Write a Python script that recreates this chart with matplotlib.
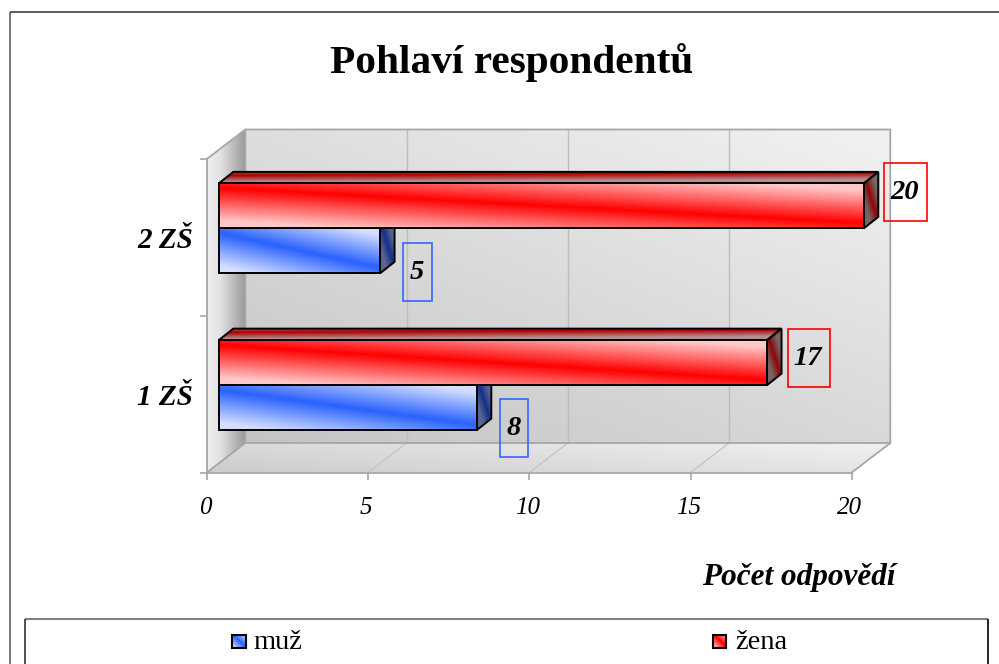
import numpy as np
import matplotlib
matplotlib.use("Agg")
import matplotlib.pyplot as plt
from matplotlib.lines import Line2D
from matplotlib.patches import Polygon, Rectangle
from matplotlib.transforms import IdentityTransform, Affine2D

# ---- data ----
categories = ["1 ZŠ", "2 ZŠ"]
muz = [8, 5]
zena = [17, 20]
x_ticks = [0, 5, 10, 15, 20]
series_names = ["muž", "žena"]
title_text = "Pohlaví respondentů"
x_title = "Počet odpovědí"

W, H = 999, 664
SERIF = "Liberation Serif"
plt.rcParams["font.family"] = [SERIF, "DejaVu Serif"]

fig = plt.figure(figsize=(W / 100, H / 100), dpi=100, facecolor="white")
IDT = IdentityTransform()

# front plane of the 3-D box in pixels
L, R, T, B = 206.8, 851.8, 159.0, 472.5
ax = fig.add_axes([L / W, 1 - B / H, (R - L) / W, (B - T) / H])
ax.set_xlim(0, 20)
ax.set_ylim(0, 2)
ax.patch.set_visible(False)
for s in ("top", "right"):
    ax.spines[s].set_visible(False)
FRAME = "#A6A6A6"
for s in ("left", "bottom"):
    ax.spines[s].set_color(FRAME)
    ax.spines[s].set_linewidth(1.3)
    ax.spines[s].set_zorder(3)
ax.set_xticks(x_ticks)
ax.set_xticklabels([str(v) for v in x_ticks], style="italic", fontsize=18)
ax.set_yticks([0, 1, 2])
ax.set_yticklabels([])
ax.set_yticks([0.5, 1.5], minor=True)
ax.set_yticklabels(categories, minor=True, style="italic", weight="bold", fontsize=21)
ax.tick_params(axis="x", which="major", length=5, width=1.2, color=FRAME, pad=12.5)
ax.tick_params(axis="y", which="major", length=5, width=1.2, color=FRAME)
ax.tick_params(axis="y", which="minor", length=0, pad=10)
for lab in ax.get_xticklabels():
    lab.set_transform(lab.get_transform() + Affine2D().translate(-2, 0))

DEPTH = np.array([38.5, 29.5])        # box depth in pixels
BAR_OFF = np.array([12.0, 9.0])       # bars sit this far back in the box
BAR_D = np.array([14.5, 11.5])        # depth of a bar in pixels


def P(x, y, off=(0, 0)):
    """Data coordinates to display pixels with a 3-D depth offset."""
    p = ax.transData.transform((x, y))
    return p + np.asarray(off, float)


def hexrgb(c):
    return np.array(matplotlib.colors.to_rgb(c))


def paint(pts, func, z):
    """Fill a polygon (display px) with an image computed by func(u, v)."""
    pts = np.asarray(pts, float)
    x0, y0 = pts.min(0)
    x1, y1 = pts.max(0)
    nx = max(int(x1 - x0) + 2, 2)
    ny = max(int(y1 - y0) + 2, 2)
    u, v = np.meshgrid(np.linspace(0, 1, nx), np.linspace(0, 1, ny))
    img = np.clip(func(u, v), 0, 1)
    im = ax.imshow(img, extent=(x0, x1, y0, y1), origin="upper", transform=IDT,
                   aspect="auto", zorder=z, interpolation="bilinear")
    im.set_clip_box(fig.bbox)
    clip = Polygon(pts, closed=True, transform=IDT)
    im.set_clip_path(clip)
    ax.set_xlim(0, 20)
    ax.set_ylim(0, 2)


def band(sat, light, v0=0.1, v1=0.9, span=0.75):
    sat, light = hexrgb(sat), hexrgb(light)

    def f(u, v):
        t = np.clip(np.abs(v - (v0 + (v1 - v0) * u)) / span, 0, 1)[..., None]
        return sat + (light - sat) * t
    return f


def gray(fn):
    def f(u, v):
        g = fn(u, v)[..., None]
        return np.repeat(g, 3, axis=2)
    return f


def outline(pts, z, color="black", lw=1.4):
    ax.add_patch(Polygon(pts, closed=True, transform=IDT, fill=False, ec=color,
                         lw=lw, zorder=z, clip_on=False, joinstyle="miter"))


# ---- walls ----
back = [P(0, 0, DEPTH), P(20, 0, DEPTH), P(20, 2, DEPTH), P(0, 2, DEPTH)]
paint(back, gray(lambda u, v: (196 + 46 * (0.55 * (1 - v) + 0.45 * u)) / 255), 1)
side = [P(0, 0), P(0, 0, DEPTH), P(0, 2, DEPTH), P(0, 2)]
paint(side, gray(lambda u, v: np.interp(u, [0, 0.35, 1], [238, 226, 152]) / 255), 1)
floor = [P(0, 0), P(20, 0), P(20, 0, DEPTH), P(0, 0, DEPTH)]
paint(floor, gray(lambda u, v: (204 + 38 * (0.65 * u + 0.35 * (1 - v))) / 255), 1)

for v in x_ticks[1:-1]:
    ax.plot(*zip(P(v, 0, DEPTH), P(v, 2, DEPTH)), transform=IDT, color="#BDBDBD",
            lw=1.0, zorder=2, clip_on=False)
for v in x_ticks[1:]:
    ax.plot(*zip(P(v, 0), P(v, 0, DEPTH)), transform=IDT, color="#C6C6C6" if v < 20 else FRAME,
            lw=1.0 if v < 20 else 1.3, zorder=2, clip_on=False)
ax.plot(*zip(P(0, 0), P(0, 0, DEPTH), P(20, 0, DEPTH), P(20, 2, DEPTH), P(0, 2, DEPTH),
             P(0, 0, DEPTH)), transform=IDT, color=FRAME, lw=1.3, zorder=2.5, clip_on=False)
ax.plot(*zip(P(0, 2), P(0, 2, DEPTH)), transform=IDT, color=FRAME, lw=1.3, zorder=2.5,
        clip_on=False)

# ---- bars ----
BAR_H = 45 / ((B - T) / 2)
y_pos = np.array([0.5, 1.5])
bar_tr = ax.transData + Affine2D().translate(*BAR_OFF)
RED = dict(front=("#FF0000", "#FFC8C8"), top=("#AC0000", "#B49090"), side=("#8C0808", "#786464"))
BLUE = dict(front=("#2A62FF", "#D4DFFF"), side=("#15308A", "#5A6590"))


def faces(value, y_low, y_high, colors, z):
    off = BAR_OFF
    fr = [P(0, y_low, off), P(value, y_low, off), P(value, y_high, off), P(0, y_high, off)]
    sd = [P(value, y_low, off), P(value, y_low, off + BAR_D),
          P(value, y_high, off + BAR_D), P(value, y_high, off)]
    tp = [P(0, y_high, off), P(value, y_high, off), P(value, y_high, off + BAR_D),
          P(0, y_high, off + BAR_D)]
    if "top" in colors:
        paint(tp, band(*colors["top"], v0=0.35, v1=0.1, span=0.6), z)
        outline(tp, z + 0.1)
    paint(sd, band(*colors["side"], v0=0.1, v1=0.9, span=0.45), z)
    outline(sd, z + 0.1)
    paint(fr, band(*colors["front"]), z + 0.2)


for i in range(len(categories)):
    base = 10 + i * 10
    faces(muz[i], y_pos[i] - BAR_H, y_pos[i], BLUE, base)
    faces(zena[i], y_pos[i], y_pos[i] + BAR_H, RED, base + 2)

bars_m = ax.barh(y_pos - BAR_H / 2, muz, height=BAR_H, transform=bar_tr, facecolor="none",
                 edgecolor="black", linewidth=1.4, clip_on=False)
bars_z = ax.barh(y_pos + BAR_H / 2, zena, height=BAR_H, transform=bar_tr, facecolor="none",
                 edgecolor="black", linewidth=1.4, clip_on=False)
for i, (bm, bz) in enumerate(zip(bars_m, bars_z)):
    bm.set_zorder(10 + i * 10 + 0.3)
    bz.set_zorder(12 + i * 10 + 0.3)
ax.set_xlim(0, 20)
ax.set_ylim(0, 2)


# ---- value labels (hand-moved boxes, as in the source chart) ----
def value_label(value, y, dy, color, wd, shift):
    end = P(value, y, BAR_OFF)
    cx, cy = end[0] + shift + wd / 2, end[1] + dy
    ax.add_patch(Rectangle((cx - wd / 2, cy - 29), wd, 58, transform=IDT, fill=False, ec=color,
                           lw=1.2, zorder=40, clip_on=False))
    ax.text(cx - 0.8, cy - 0.5, str(value), transform=IDT, ha="center", va="center",
            style="italic", weight="bold", fontsize=20.5, zorder=41, clip_on=False)


for i, (dm, dz) in enumerate(zip((-20, -21), (5, 13.7))):
    value_label(muz[i], y_pos[i] - BAR_H / 2, dm, "#3366FF", 28.5, 23)
    value_label(zena[i], y_pos[i] + BAR_H / 2, dz, "#FF0000", 42.5, 20.5)

# ---- titles ----
fig.text(511.5 / W, 1 - 73 / H, title_text, ha="center", va="baseline", weight="bold", fontsize=29.7)
fig.text(799 / W, 1 - 585 / H, x_title, ha="center", va="baseline", style="italic",
         weight="bold", fontsize=22.5)


# ---- chart and legend frames ----
def line(xs, ys, color, lw):
    fig.add_artist(Line2D(xs, [H - y for y in ys], transform=IDT, color=color, lw=lw,
                          solid_capstyle="butt"))


line([10, 999], [12, 12], "#303030", 1.1)
line([10, 10], [12, 664], "#505050", 1.1)
line([25, 988], [619, 619], "#808080", 1.5)
line([25, 25], [619, 664], "#202020", 1.1)
line([988, 988], [619, 664], "#000000", 1.2)

# ---- legend ----
for name, x_sw, x_txt, cols in (
        (series_names[0], 232, 253, BLUE["front"]),
        (series_names[1], 712.5, 735, RED["front"])):
    x0, x1 = x_sw, x_sw + 13.5
    y0, y1 = H - 647.5, H - 634.5
    sw = [(x0, y0), (x1, y0), (x1, y1), (x0, y1)]
    paint(sw, band(cols[0], cols[1], v0=0.0, v1=1.0, span=1.0), 50)
    outline(sw, 51, lw=1.5)
    fig.text(x_txt / W, 1 - 649 / H, name, ha="left", va="baseline", fontsize=20.5)

fig.savefig("out.png", dpi=100, facecolor="white")
